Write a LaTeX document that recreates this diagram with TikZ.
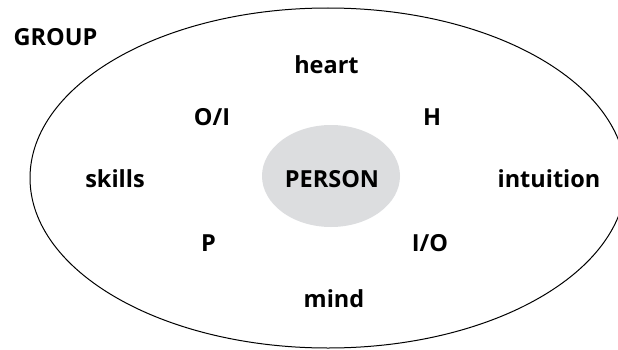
\documentclass[tikz,border=0pt]{standalone}
\usepackage{fontspec}
\setmainfont{Open Sans}
\definecolor{personfill}{HTML}{DCDDDF}
\begin{document}
\begin{tikzpicture}[x=1pt,y=1pt,
  lbl/.style={anchor=base,inner sep=0pt,font=\fontsize{23.5}{26}\selectfont\bfseries}]
\useasboundingbox (0,0) rectangle (618,349);
% outer group boundary
\draw[line width=1pt] (328,171) ellipse [x radius=298, y radius=170];
% inner person disc
\fill[personfill] (331,173) ellipse [x radius=69, y radius=51];
\node[lbl] (group) at (55.5,303) {GROUP};
\node[lbl] (heart) at (326.5,276) {heart};
\node[lbl] (oi) at (212,224) {O/I};
\node[lbl] (h) at (432,224) {H};
\node[lbl] (skills) at (115,162) {skills};
\node[lbl] (person) at (332,162) {PERSON};
\node[lbl] (intuition) at (549,162) {intuition};
\node[lbl] (p) at (208.5,98) {P};
\node[lbl] (io) at (430,98) {I/O};
\node[lbl] (mind) at (334,42) {mind};
\end{tikzpicture}
\end{document}
